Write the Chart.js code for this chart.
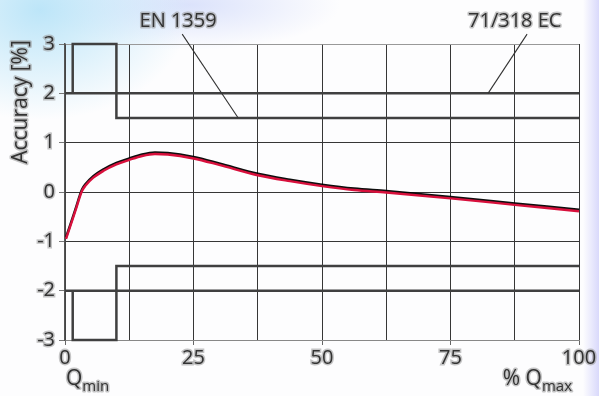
<!DOCTYPE html>
<html>
<head>
<meta charset="utf-8">
<script src="https://cdn.jsdelivr.net/npm/chart.js@4.4.1/dist/chart.umd.min.js"></script>
<style>
html,body{margin:0;padding:0;}
body{
  width:599px;height:396px;overflow:hidden;
  background:
    radial-gradient(ellipse 150px 110px at 40px 10px, rgba(185,228,248,0.95), rgba(255,255,255,0)),
    radial-gradient(ellipse 150px 45px at 190px 5px, rgba(205,215,250,0.7), rgba(255,255,255,0)),
    linear-gradient(to left, rgba(205,205,250,0.75) 0px, rgba(255,255,255,0) 16px),
    #fdfdfe;
}
canvas{display:block;}
</style>
</head>
<body>
<canvas id="c" width="599" height="396"></canvas>
<script>
// ---- data ----
const flowPct  = [0.2, 1, 2, 3.3, 4, 5.5, 7.5, 10, 12.5, 15, 17.5, 20, 25, 30, 37.5, 43.75, 50, 56.25, 62.5, 75, 87.5, 100];
const accuracy = [-0.95, -0.7, -0.39, 0.02, 0.13, 0.29, 0.43, 0.56, 0.65, 0.73, 0.77, 0.76, 0.68, 0.55, 0.34, 0.22, 0.12, 0.04, -0.01, -0.13, -0.26, -0.39];

// EN 1359 limit envelope (upper / lower)
const enUpperX = [1.5, 1.5, 10, 10, 100];
const enUpperY = [2, 3, 3, 1.5, 1.5];
const enLowerX = [1.5, 1.5, 10, 10, 100];
const enLowerY = [-2, -3, -3, -1.5, -1.5];
// 71/318 EC limits
const ecUpperX = [0, 100];
const ecUpperY = [2, 2];
const ecLowerX = [0, 100];
const ecLowerY = [-2, -2];

const xTickLabels = [0, 25, 50, 75, 100];
const yTickLabels = [-3, -2, -1, 0, 1, 2, 3];

// annotations: label, text anchor (x,y) and leader line from/to in data units
const annLabels = ['EN 1359', '71/318 EC'];
const annTextX  = [22, 87.5];
const annTextY  = [3.47, 3.47];
const annFromX  = [22.8, 89.9];
const annFromY  = [3.2, 3.2];
const annToX    = [33.7, 82.3];
const annToY    = [1.5, 2];

const pts = (xs, ys) => xs.map((x, i) => ({x: x, y: ys[i]}));

const FONT = '"Open Sans", "DejaVu Sans", sans-serif';
const TXT = '#333333';
const HALO = 'rgba(150,150,150,0.55)';
const GRID = '#363636';

function haloText(ctx, text, x, y, size, align, baseline) {
  ctx.save();
  ctx.font = size + 'px ' + FONT;
  ctx.textAlign = align || 'left';
  ctx.textBaseline = baseline || 'alphabetic';
  ctx.lineJoin = 'round';
  ctx.strokeStyle = HALO;
  ctx.lineWidth = 3;
  ctx.strokeText(text, x, y);
  ctx.fillStyle = TXT;
  ctx.fillText(text, x, y);
  ctx.restore();
}

const decorPlugin = {
  id: 'decor',
  beforeDatasetDraw(chart, args) {
    if (args.index === 0) {
      const ctx = chart.ctx;
      ctx.save();
      ctx.shadowColor = 'rgba(0,0,0,0.95)';
      ctx.shadowOffsetY = -1.5;
      ctx.shadowOffsetX = 0;
      ctx.shadowBlur = 0;
    }
  },
  afterDatasetDraw(chart, args) {
    if (args.index === 0) chart.ctx.restore();
  },
  afterDraw(chart) {
    const ctx = chart.ctx;
    const xs = chart.scales.x, ys = chart.scales.y;
    for (let i = 0; i < annLabels.length; i++) {
      ctx.save();
      ctx.strokeStyle = '#333';
      ctx.lineWidth = 1.1;
      ctx.beginPath();
      ctx.moveTo(xs.getPixelForValue(annFromX[i]), ys.getPixelForValue(annFromY[i]));
      ctx.lineTo(xs.getPixelForValue(annToX[i]), ys.getPixelForValue(annToY[i]));
      ctx.stroke();
      ctx.restore();
      haloText(ctx, annLabels[i], xs.getPixelForValue(annTextX[i]), ys.getPixelForValue(annTextY[i]), 20, 'center', 'middle');
    }
    ctx.save();
    ctx.translate(21, 102);
    ctx.rotate(-Math.PI / 2);
    haloText(ctx, 'Accuracy [%]', 0, 0, 21, 'center', 'middle');
    ctx.restore();
    const x0 = xs.getPixelForValue(0);
    ctx.save();
    ctx.font = '21px ' + FONT;
    const wQ = ctx.measureText('Q').width;
    ctx.restore();
    haloText(ctx, 'Q', x0 + 1, 385, 21, 'left');
    haloText(ctx, 'min', x0 + 1 + wQ, 391, 15, 'left');
    const xr = xs.getPixelForValue(100) - 7;
    ctx.save();
    ctx.font = '15px ' + FONT;
    const wMax = ctx.measureText('max').width;
    ctx.restore();
    haloText(ctx, 'max', xr, 391, 15, 'right');
    haloText(ctx, '% Q', xr - wMax, 385, 21, 'right');
  }
};

const limitStyle = {
  borderColor: '#404040', borderWidth: 2.5, pointRadius: 0, tension: 0, fill: false, clip: 6, showLine: true
};

new Chart(document.getElementById('c'), {
  type: 'scatter',
  data: {
    datasets: [
      { label: 'curve', data: pts(flowPct, accuracy), showLine: true, borderColor: '#d8103c', borderWidth: 2.4,
        pointRadius: 0, cubicInterpolationMode: 'monotone', fill: false, clip: 4 },
      Object.assign({ label: 'EN upper', data: pts(enUpperX, enUpperY) }, limitStyle),
      Object.assign({ label: 'EN lower', data: pts(enLowerX, enLowerY) }, limitStyle),
      Object.assign({ label: 'EC upper', data: pts(ecUpperX, ecUpperY) }, limitStyle),
      Object.assign({ label: 'EC lower', data: pts(ecLowerX, ecLowerY) }, limitStyle)
    ]
  },
  options: {
    responsive: false,
    animation: false,
    devicePixelRatio: 1,
    layout: { padding: { left: 0, top: 44, right: 20, bottom: 0 } },
    plugins: { legend: { display: false }, tooltip: { enabled: false } },
    scales: {
      x: {
        type: 'linear', min: 0, max: 100,
        afterFit(s) { s.height = 56; },
        afterBuildTicks(s) {
          const t = [];
          for (let v = 0; v <= 100; v += 12.5) t.push({ value: v });
          s.ticks = t;
        },
        ticks: {
          autoSkip: false, maxRotation: 0, padding: 1,
          color: TXT, textStrokeColor: HALO, textStrokeWidth: 3,
          font: { family: FONT, size: 20 },
          callback: (v) => xTickLabels.includes(v) ? String(v) : ''
        },
        grid: {
          color: GRID, lineWidth: 1, tickLength: 5,
          tickColor: (c) => xTickLabels.includes(c.tick && c.tick.value) ? '#666' : 'rgba(0,0,0,0)'
        },
        border: { color: '#888', width: 1 }
      },
      y: {
        type: 'linear', min: -3, max: 3,
        afterFit(s) { s.width = 65; },
        afterBuildTicks(s) { s.ticks = yTickLabels.map(v => ({ value: v })); },
        ticks: {
          padding: 4,
          color: TXT, textStrokeColor: HALO, textStrokeWidth: 3,
          font: { family: FONT, size: 20 }
        },
        grid: {
          color: (c) => (c.tick && Math.abs(c.tick.value) === 3) ? '#999' : GRID,
          lineWidth: 1, tickLength: 6, tickColor: '#777'
        },
        border: { color: '#555', width: 1.5 }
      }
    }
  },
  plugins: [decorPlugin]
});
</script>
</body>
</html>
